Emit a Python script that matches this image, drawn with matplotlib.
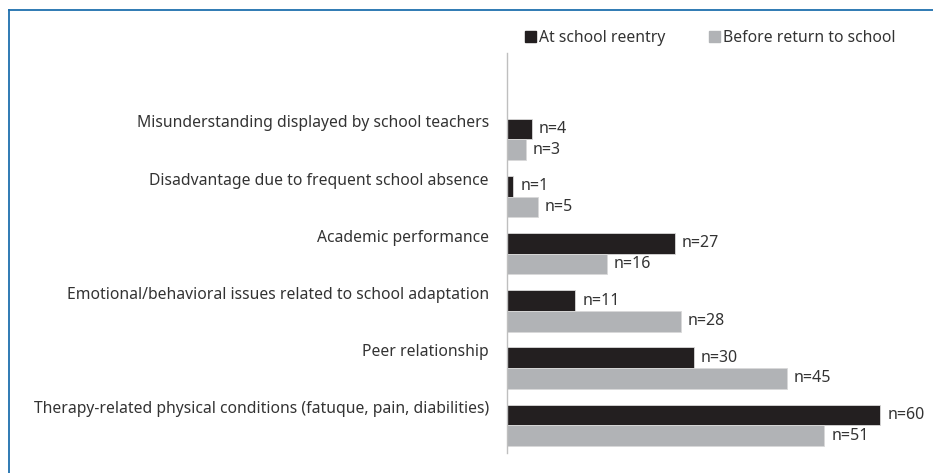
import matplotlib
matplotlib.use("Agg")
import matplotlib.pyplot as plt
from matplotlib.lines import Line2D
from matplotlib.patches import Patch

categories = [
    "Misunderstanding displayed by school teachers",
    "Disadvantage due to frequent school absence",
    "Academic performance",
    "Emotional/behavioral issues related to school adaptation",
    "Peer relationship",
    "Therapy-related physical conditions (fatuque, pain, diabilities)",
]
reentry = [4, 1, 27, 11, 30, 60]
before_return = [3, 5, 16, 28, 45, 51]
series_names = ["At school reentry", "Before return to school"]

BLACK = "#231f20"
GRAY = "#b1b3b6"
TEXT = "#333333"
FS = 11.3

plt.rcParams["font.family"] = ["Noto Sans", "DejaVu Sans"]

fig = plt.figure(figsize=(9.33, 4.73), dpi=100)
ax = fig.add_axes([507 / 933, 1 - 453 / 473, (925 - 507) / 933, 400 / 473])

h = 0.362
pos = list(range(len(categories)))
ax.barh([p - h / 2 for p in pos], reentry, height=h, color=BLACK,
        edgecolor="#d9d9d9", linewidth=0.6)
ax.barh([p + h / 2 for p in pos], before_return, height=h, color=GRAY,
        edgecolor="#d9d9d9", linewidth=0.6)

for p, v in zip(pos, reentry):
    ax.annotate(f"n={v}", (v, p - h / 2), xytext=(5, 0), textcoords="offset points",
                va="center", ha="left", fontsize=11.5, color=TEXT)
for p, v in zip(pos, before_return):
    ax.annotate(f"n={v}", (v, p + h / 2), xytext=(5, 0), textcoords="offset points",
                va="center", ha="left", fontsize=11.5, color=TEXT)

for p, name in zip(pos, categories):
    ax.annotate(name, (0, p - 0.28), xytext=(-13, 0), textcoords="offset points",
                va="center", ha="right", fontsize=FS, color=TEXT)

ax.set_xlim(0, (925 - 507) / 6.22)
ax.set_ylim(5.484, -1.51)
ax.set_xticks([])
ax.set_yticks([])
for side in ["top", "right", "bottom"]:
    ax.spines[side].set_visible(False)
ax.spines["left"].set_color("#bfbfbf")
ax.spines["left"].set_linewidth(1.0)

handles = [Patch(color=BLACK, label=series_names[0]),
           Patch(color=GRAY, label=series_names[1])]
fig.legend(handles=handles, loc="center left", bbox_to_anchor=(511 / 933, 1 - 38 / 473),
           ncol=2, frameon=False, fontsize=FS, handlelength=0.7, handleheight=0.7,
           handletextpad=0.2, columnspacing=2.75, labelcolor=TEXT)

# blue frame on the top and left edges
fig.add_artist(Line2D([8.5 / 933, 1], [1 - 10.5 / 473, 1 - 10.5 / 473],
                      transform=fig.transFigure, color="#1f6fae", linewidth=1.3))
fig.add_artist(Line2D([8.5 / 933, 8.5 / 933], [0, 1 - 10.5 / 473],
                      transform=fig.transFigure, color="#1f6fae", linewidth=1.3))

fig.savefig("out.png", dpi=100)
